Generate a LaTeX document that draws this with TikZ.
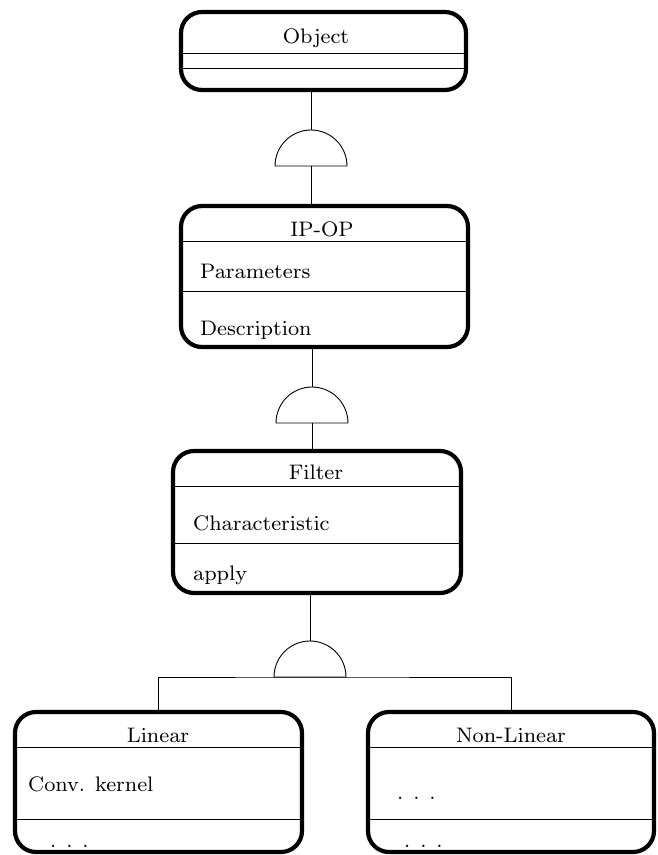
\documentclass[tikz,border=0pt]{standalone}
\font\cmf=cmr8 at 21pt
\begin{document}
\begin{tikzpicture}[x=1pt,y=-1pt,
  box/.style={draw, line width=4.2pt, rounded corners=21pt, inner sep=0pt},
  sep/.style={line width=0.9pt},
  conn/.style={line width=0.9pt},
  gatestyle/.style={line width=0.9pt, fill=white},
  ttl/.style={anchor=base, inner sep=0pt, font=\cmf},
  txt/.style={anchor=base west, inner sep=0pt, font=\cmf}]
\useasboundingbox (0,0) rectangle (657,855);
% Object
\node[box, minimum width=285pt, minimum height=78pt] (obj) at (323.5,51) {};
\node[ttl] (objt) at (316,43) {Object};
\draw[sep] (obj.west |- 0,53) -- (obj.east |- 0,53);
\draw[sep] (obj.west |- 0,68) -- (obj.east |- 0,68);
% IP-OP
\node[box, minimum width=287pt, minimum height=141pt] (ipop) at (324.5,276.5) {};
\node[ttl] (ipopt) at (322,236) {IP-OP};
\draw[sep] (ipop.west |- 0,241) -- (ipop.east |- 0,241);
\node[txt] (par) at (200,278) {Parameters};
\draw[sep] (ipop.west |- 0,291) -- (ipop.east |- 0,291);
\node[txt] (desc) at (200,335) {Description};
% Filter
\node[box, minimum width=288pt, minimum height=142pt] (filt) at (317,522) {};
\node[ttl] (filtt) at (316,479) {Filter};
\draw[sep] (filt.west |- 0,486) -- (filt.east |- 0,486);
\node[txt] (char) at (193,530) {Characteristic};
\draw[sep] (filt.west |- 0,543) -- (filt.east |- 0,543);
\node[txt] (apply) at (193,580) {apply};
% Linear
\node[box, minimum width=287pt, minimum height=140pt] (lin) at (158.5,782) {};
\node[ttl] (lint) at (158,742) {Linear};
\draw[sep] (lin.west |- 0,747) -- (lin.east |- 0,747);
\node[txt] (conv) at (28,791) {Conv. kernel};
\draw[sep] (lin.west |- 0,819) -- (lin.east |- 0,819);
\node[txt] (lind) at (50,847) {. . .};
% Non-Linear
\node[box, minimum width=286pt, minimum height=140pt] (nlin) at (511,782) {};
\node[ttl] (nlint) at (511,742) {Non-Linear};
\draw[sep] (nlin.west |- 0,747) -- (nlin.east |- 0,747);
\node[txt] (nld1) at (397,799) {. . .};
\draw[sep] (nlin.west |- 0,819) -- (nlin.east |- 0,819);
\node[txt] (nld2) at (404,847) {. . .};
% gates
\coordinate (g1) at (311,166);
\coordinate (g2) at (312,423);
\coordinate (g3) at (310,677);
\draw[conn] (obj.south -| g1) -- ([yshift=36pt]g1);
\draw[gatestyle] ([xshift=-36pt]g1) arc[start angle=180, end angle=0, radius=36pt] -- cycle;
\draw[conn] (g1) -- (ipop.north -| g1);
\draw[conn] (ipop.south -| g2) -- ([yshift=36pt]g2);
\draw[gatestyle] ([xshift=-36pt]g2) arc[start angle=180, end angle=0, radius=36pt] -- cycle;
\draw[conn] (g2) -- (filt.north -| g2);
\draw[conn] (filt.south -| g3) -- ([yshift=36pt]g3);
\draw[gatestyle] ([xshift=-36pt]g3) arc[start angle=180, end angle=0, radius=36pt] -- cycle;
\draw[conn] (lin.north) |- (g3) -| (nlin.north);
\end{tikzpicture}
\end{document}
